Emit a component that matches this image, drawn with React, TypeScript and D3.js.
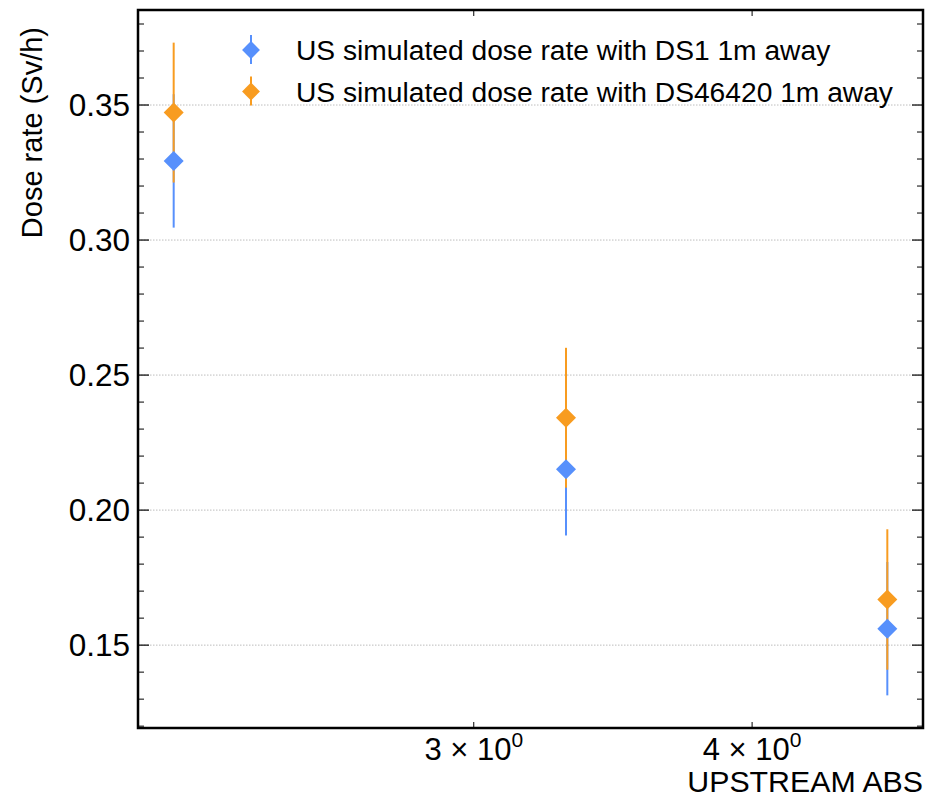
import * as d3 from 'd3';

// upstream absorber setting vs simulated dose rate
const absorbers = [2.2, 3.3, 4.6];
const ds1Rate = [0.3293, 0.2151, 0.1561];
const ds1Err = [0.0247, 0.0245, 0.0247];
const ds46420Rate = [0.3472, 0.2342, 0.1669];
const ds46420Err = [0.0259, 0.0259, 0.026];

const seriesNames = [
  'US simulated dose rate with DS1 1m away',
  'US simulated dose rate with DS46420 1m away',
];
const seriesColors = ['#5790fc', '#f89c20'];
const xTickValues = [3, 4];

const width = 933;
const height = 797;
const margin = { top: 10, right: 10, bottom: 69, left: 138 };
const font = '"Liberation Sans", Arial, Helvetica, sans-serif';

export default function App() {
  const series = [
    { name: seriesNames[0], color: seriesColors[0], rate: ds1Rate, err: ds1Err },
    { name: seriesNames[1], color: seriesColors[1], rate: ds46420Rate, err: ds46420Err },
  ];

  // matplotlib-style 5% auto margins (log space for x)
  const lx = d3.extent(absorbers.map(Math.log10)) as [number, number];
  const lpad = (lx[1] - lx[0]) * 0.05;
  const x = d3
    .scaleLog()
    .domain([Math.pow(10, lx[0] - lpad), Math.pow(10, lx[1] + lpad)])
    .range([margin.left, width - margin.right]);

  const lows = series.flatMap((s) => s.rate.map((v, i) => v - s.err[i]));
  const highs = series.flatMap((s) => s.rate.map((v, i) => v + s.err[i]));
  const ymin = d3.min(lows)!;
  const ymax = d3.max(highs)!;
  const ypad = (ymax - ymin) * 0.05;
  const y = d3
    .scaleLinear()
    .domain([ymin - ypad, ymax + ypad])
    .range([height - margin.bottom, margin.top]);

  const majorY = y.ticks(5);
  const minorY = y.ticks(25).filter((t) => !majorY.some((m) => Math.abs(m - t) < 1e-9));

  const x0 = margin.left;
  const x1 = width - margin.right;
  const y0 = height - margin.bottom;
  const y1 = margin.top;

  const diamond = d3.symbol(d3.symbolSquare, 200)()!;
  const legendDiamond = d3.symbol(d3.symbolSquare, 160)()!;

  return (
    <svg
      width={width}
      height={height}
      style={{ position: 'absolute', left: 0, top: 0, background: '#fff' }}
      fontFamily={font}
    >
      {/* grid */}
      {majorY.map((t) => (
        <line
          key={'g' + t}
          x1={x0}
          x2={x1}
          y1={y(t)}
          y2={y(t)}
          stroke='#bdbdbd'
          strokeWidth={1}
          strokeDasharray='1.5,1.5'
        />
      ))}

      {/* error bars */}
      {series.map((s) =>
        absorbers.map((a, i) => (
          <line
            key={s.name + 'e' + i}
            x1={x(a)}
            x2={x(a)}
            y1={y(s.rate[i] - s.err[i])}
            y2={y(s.rate[i] + s.err[i])}
            stroke={s.color}
            strokeWidth={2}
          />
        ))
      )}

      {/* markers */}
      {series.map((s) =>
        absorbers.map((a, i) => (
          <path
            key={s.name + 'm' + i}
            d={diamond}
            transform={`translate(${x(a)},${y(s.rate[i])}) rotate(45)`}
            fill={s.color}
          />
        ))
      )}

      {/* y ticks, both sides */}
      {majorY.map((t) => (
        <g key={'yt' + t}>
          <line x1={x0} x2={x0 + 11} y1={y(t)} y2={y(t)} stroke='#000' strokeWidth={1.2} />
          <line x1={x1} x2={x1 - 11} y1={y(t)} y2={y(t)} stroke='#000' strokeWidth={1.2} />
          <text x={x0 - 8} y={y(t)} dy='0.36em' textAnchor='end' fontSize={31.5}>
            {d3.format('.2f')(t)}
          </text>
        </g>
      ))}
      {minorY.map((t) => (
        <g key={'ym' + t}>
          <line x1={x0} x2={x0 + 6} y1={y(t)} y2={y(t)} stroke='#000' strokeWidth={1} />
          <line x1={x1} x2={x1 - 6} y1={y(t)} y2={y(t)} stroke='#000' strokeWidth={1} />
        </g>
      ))}

      {/* x ticks, bottom and top */}
      {xTickValues.map((t) => (
        <g key={'xt' + t}>
          <line x1={x(t)} x2={x(t)} y1={y0} y2={y0 - 6} stroke='#000' strokeWidth={1} />
          <line x1={x(t)} x2={x(t)} y1={y1} y2={y1 + 6} stroke='#000' strokeWidth={1} />
          <text x={x(t)} y={y0 + 32} textAnchor='middle' fontSize={31}>
            {`${t} × 10`}
            <tspan fontSize={21} dy={-13}>
              0
            </tspan>
          </text>
        </g>
      ))}

      {/* frame */}
      <rect x={x0} y={y1} width={x1 - x0} height={y0 - y1} fill='none' stroke='#000' strokeWidth={2.5} />

      {/* axis labels */}
      <text x={x1} y={792} textAnchor='end' fontSize={30.3}>
        UPSTREAM ABS
      </text>
      <text transform={`translate(42,${27}) rotate(-90)`} textAnchor='end' fontSize={29}>
        Dose rate (Sv/h)
      </text>

      {/* legend */}
      {series.map((s, i) => {
        const ly = 50 + i * 41.5;
        return (
          <g key={'lg' + i}>
            <line x1={251} x2={251} y1={ly - 15} y2={ly + 14} stroke={s.color} strokeWidth={2} />
            <path d={legendDiamond} transform={`translate(251,${ly}) rotate(45)`} fill={s.color} />
            <text x={296} y={ly} dy='0.36em' fontSize={28.2}>
              {s.name}
            </text>
          </g>
        );
      })}
    </svg>
  );
}
